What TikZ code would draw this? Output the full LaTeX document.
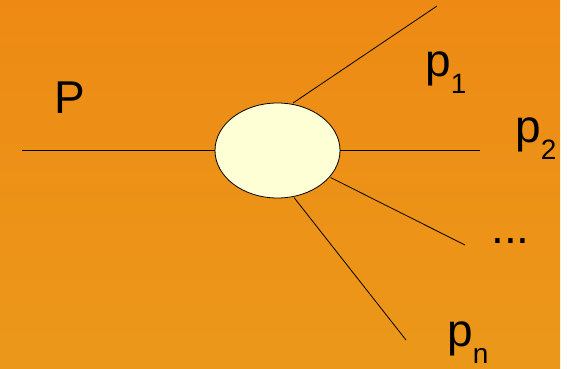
\documentclass[tikz,border=0pt]{standalone}
\usepackage{fontspec}
\setmainfont{Liberation Sans}
\usetikzlibrary{shapes.geometric}
\definecolor{bgdark}{RGB}{239,132,18}
\definecolor{bglight}{RGB}{234,158,28}
\definecolor{blobfill}{RGB}{255,255,213}
\newcommand{\psub}[1]{p\raisebox{-17pt}{\fontsize{28}{28}\selectfont #1}}

\begin{document}
\begin{tikzpicture}[x=1pt, y=-1pt, line width=0.8pt,
  every node/.style={font=\fontsize{46}{46}\selectfont, inner sep=0pt, anchor=base west}]
  \useasboundingbox (0,0) rectangle (571,368);
  \fill[white] (0,0) rectangle (571,368);
  \begin{scope}
    \clip (0,0) rectangle (560,368);
    \shade[shading angle=-45, top color=bgdark, middle color=bgdark, bottom color=bglight] (-70,-166) rectangle (630,534);
  \end{scope}
  \node[draw, ellipse, fill=blobfill, minimum width=125pt, minimum height=95pt, anchor=center] (blob) at (277.5,150.5) {};
  \coordinate (inP) at (22,150.5);
  \coordinate (o1) at (437,6);   \coordinate (o2) at (480,150.5);
  \coordinate (o3) at (465,245); \coordinate (on) at (406,340);
  \draw (inP) -- (blob.west);
  \draw[shorten <=1.5pt] (blob.73) -- (o1);
  \draw (blob.east) -- (o2);
  \draw[shorten <=1pt] (blob.333) -- (o3);
  \draw[shorten <=1pt] (blob.289) -- (on);
  \node (P) at (54,113) {P};
  \node (p1) at (425,76) {\psub{1}};
  \node (p2) at (515,142) {\psub{2}};
  \node (dots) at (491,243) {...};
  \node (pn) at (447,346) {\psub{n}};
\end{tikzpicture}
\end{document}
